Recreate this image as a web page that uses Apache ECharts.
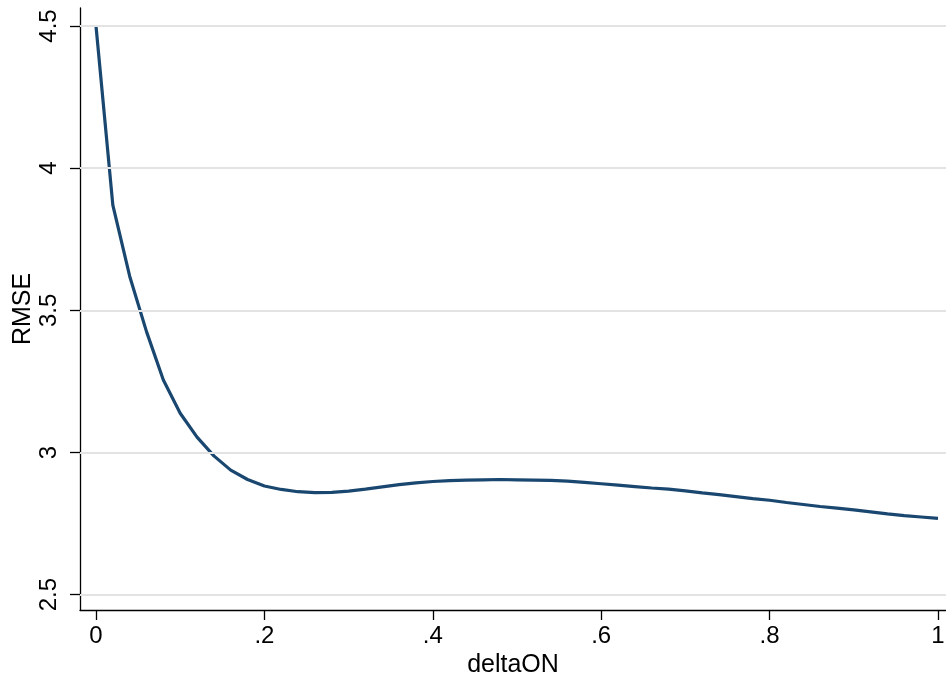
<!DOCTYPE html>
<html>
<head>
<meta charset="utf-8">
<script src="https://cdn.jsdelivr.net/npm/echarts@6/dist/echarts.min.js"></script>
<style>
html,body{margin:0;padding:0;background:#fff;}
#chart{width:946px;height:680px;}
</style>
</head>
<body>
<div id="chart"></div>
<script>
const deltaON = [0,0.02,0.04,0.06,0.08,0.10,0.12,0.14,0.16,0.18,0.20,0.22,0.24,0.26,0.28,0.30,0.32,0.34,0.36,0.38,0.40,0.42,0.44,0.46,0.48,0.50,0.52,0.54,0.56,0.58,0.60,0.62,0.64,0.66,0.68,0.70,0.72,0.74,0.76,0.78,0.80,0.82,0.84,0.86,0.88,0.90,0.92,0.94,0.96,0.98,1.00];
const rmse = [4.50,3.87,3.62,3.425,3.255,3.138,3.054,2.988,2.938,2.905,2.882,2.870,2.862,2.859,2.860,2.864,2.871,2.879,2.887,2.893,2.898,2.901,2.903,2.904,2.905,2.904,2.903,2.902,2.899,2.895,2.890,2.885,2.880,2.875,2.871,2.865,2.858,2.852,2.845,2.838,2.832,2.824,2.817,2.810,2.804,2.798,2.791,2.784,2.778,2.773,2.768];
const xTicks = [0,0.2,0.4,0.6,0.8,1];
const xTickLabels = ['0','.2','.4','.6','.8','1'];
const yTicks = [2.5,3,3.5,4,4.5];
const yTickLabels = ['2.5','3','3.5','4','4.5'];

const font = 'Liberation Sans, Arial, Helvetica, sans-serif';
const chart = echarts.init(document.getElementById('chart'), null, {renderer:'canvas'});
chart.setOption({
  animation:false,
  backgroundColor:'#ffffff',
  grid:{left:80,right:0,top:8,bottom:70,containLabel:false,outerBoundsMode:'none'},
  xAxis:{
    type:'value', min:-0.019, max:1.0095,
    name:'deltaON', nameLocation:'middle', nameGap:43, nameMoveOverlap:false,
    nameTextStyle:{color:'#000',fontSize:25,fontFamily:font},
    axisLine:{show:true,onZero:false,lineStyle:{color:'#000',width:1.3}},
    axisTick:{show:true,length:10,lineStyle:{color:'#000',width:1.3},customValues:xTicks},
    axisLabel:{show:true,color:'#000',fontSize:24,fontFamily:font,margin:14,customValues:xTicks,
      formatter:function(v){const i=xTicks.findIndex(t=>Math.abs(t-v)<1e-9);return i>=0?xTickLabels[i]:'';}},
    splitLine:{show:false}
  },
  yAxis:{
    type:'value', min:2.446, max:4.5633,
    name:'RMSE', nameLocation:'middle', nameGap:44, nameRotate:90, nameMoveOverlap:false,
    nameTextStyle:{color:'#000',fontSize:25,fontFamily:font},
    axisLine:{show:true,onZero:false,lineStyle:{color:'#000',width:1.3}},
    axisTick:{show:true,length:10,lineStyle:{color:'#000',width:1.3},customValues:yTicks},
    axisLabel:{show:true,color:'#000',fontSize:24,fontFamily:font,rotate:90,margin:19,customValues:yTicks,
      formatter:function(v){const i=yTicks.findIndex(t=>Math.abs(t-v)<1e-9);return i>=0?yTickLabels[i]:'';}},
    splitLine:{show:false}
  },
  series:[
    {
      type:'line', data:[], z:1, silent:true,
      markLine:{silent:true,symbol:'none',animation:false,label:{show:false},
        lineStyle:{color:'#e3e3e3',width:1.8,type:'solid'},
        data:yTicks.map(v=>({yAxis:v}))}
    },
    {
      type:'line', z:3,
      data:deltaON.map((x,i)=>[x,rmse[i]]),
      showSymbol:false, smooth:false,
      lineStyle:{color:'#1a476f',width:3.2},
      itemStyle:{color:'#1a476f'}
    }
  ]
});
</script>
</body>
</html>
